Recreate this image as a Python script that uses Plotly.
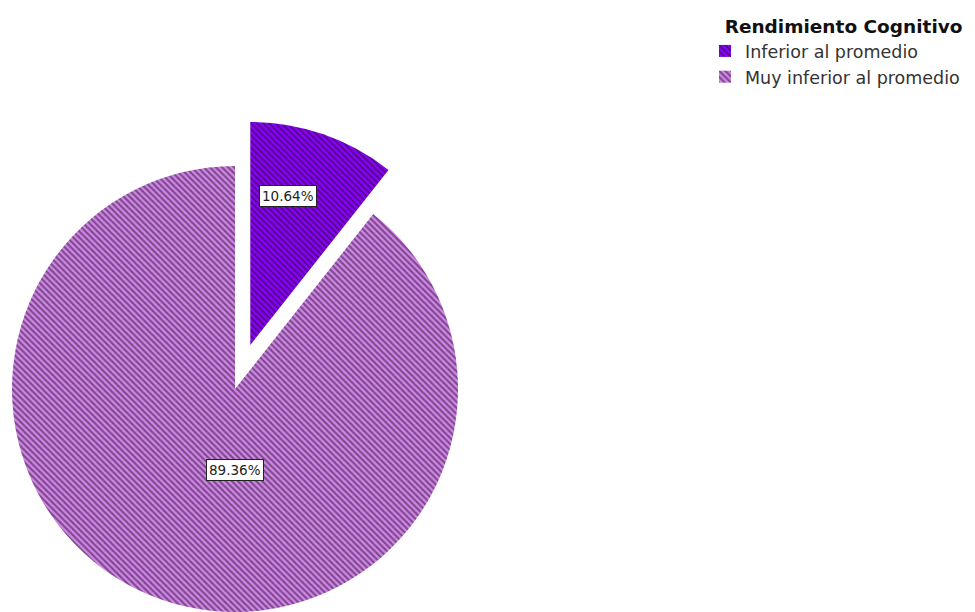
import math
import plotly.graph_objects as go

# ---- data ----
labels = ["Inferior al promedio", "Muy inferior al promedio"]
values = [10.64, 89.36]
colors = ["#8C00FF", "#D585EC"]
legend_title = "Rendimiento Cognitivo"

# ---- layout parameters (pixels) ----
W, H = 975, 612
cx, cy, R = 235, 389, 223          # centre / radius of the pie
pull = 0.209                       # exploded fraction of the radius (first slice)
FONT = "DejaVu Sans, Verdana, sans-serif"


def domain(px, py, r):
    return dict(x=[(px - r) / W, (px + r) / W], y=[1 - (py + r) / H, 1 - (py - r) / H])


# offset of the exploded slice (along its bisector, clockwise from 12 o'clock)
total = sum(values)
mid = values[0] / total * 360 / 2
dx = pull * R * math.sin(math.radians(mid))
dy = -pull * R * math.cos(math.radians(mid))

pattern_fg = "#1e1424"
transparent = "rgba(0,0,0,0)"


def pat(shapes):
    return dict(shape=shapes, fgcolor=pattern_fg, size=4.3, solidity=0.5, fillmode="overlay")


common = dict(labels=labels, values=values, sort=False, direction="clockwise",
              rotation=0, textinfo="none", hoverinfo="label+percent")

fig = go.Figure()
# legend-only trace (tiny, hidden under the main pie)
fig.add_trace(go.Pie(**common, domain=domain(cx - 30, cy + 100, 3), showlegend=True,
                     marker=dict(colors=colors, line=dict(width=0), pattern=pat(["\\", "\\"]))))
# main slice
fig.add_trace(go.Pie(**common, domain=domain(cx, cy, R), showlegend=False,
                     marker=dict(colors=[transparent, colors[1]], line=dict(width=0),
                                 pattern=pat(["", "\\"]))))
# exploded slice
fig.add_trace(go.Pie(**common, domain=domain(cx + dx, cy + dy, R), showlegend=False,
                     marker=dict(colors=[colors[0], transparent], line=dict(width=0),
                                 pattern=pat(["\\", ""]))))

# percentage labels in boxes
label_pos = [(cx + dx + 0.17 * R, cy + dy - 0.67 * R), (cx, cy + 0.365 * R)]
for (lx, ly), v in zip(label_pos, values):
    fig.add_annotation(x=lx / W, y=1 - ly / H, xref="paper", yref="paper",
                       xanchor="center", yanchor="middle",
                       text=f"{v / total * 100:.2f}%", showarrow=False,
                       font=dict(family=FONT, size=13.5, color="#222"),
                       bgcolor="white", bordercolor="#222", borderwidth=1, borderpad=2)

fig.update_layout(
    width=W, height=H,
    margin=dict(l=0, r=0, t=0, b=0),
    paper_bgcolor="white", plot_bgcolor="white",
    showlegend=True,
    legend=dict(
        x=705 / W, xanchor="left", y=1 - 9 / H, yanchor="top",
        title=dict(text="&nbsp;&nbsp;&nbsp;<b>" + legend_title + "</b>",
                   font=dict(family=FONT, size=18.5, color="#111")),
        font=dict(family=FONT, size=17.5, color="#333"),
        bgcolor="rgba(0,0,0,0)", tracegroupgap=0, itemclick=False,
    ),
)

fig.write_html("out.html")
